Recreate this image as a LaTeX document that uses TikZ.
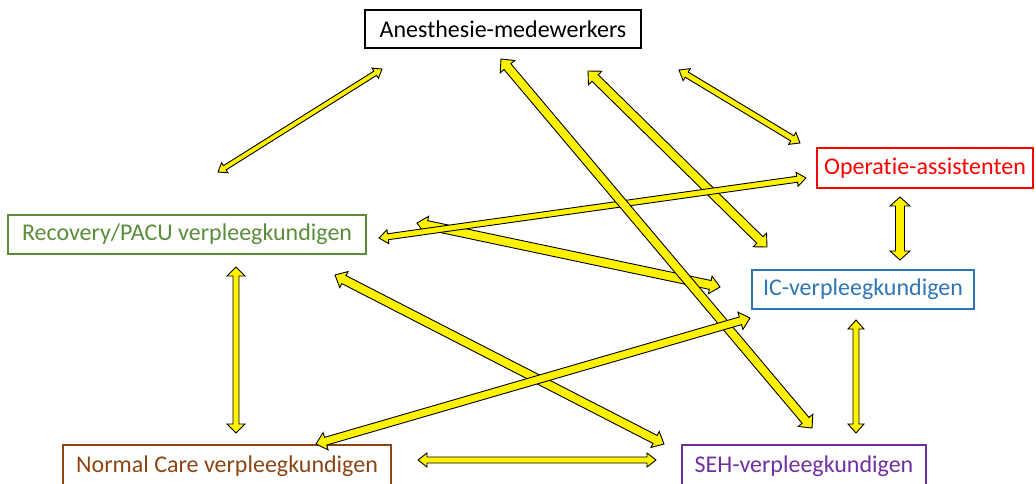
\documentclass[tikz,border=0pt]{standalone}
\usepackage{fontspec}
\setmainfont{Carlito}[Ligatures={NoCommon}]
\usetikzlibrary{calc}

% double headed block arrow: ends, half shaft width, half head width, head length
\newcommand{\biarrow}[5]{%
  \filldraw[yarrow] (#1)
    -- ($(#1)!#5!(#2)!#4!90:(#2)$) -- ($(#1)!#5!(#2)!#3!90:(#2)$)
    -- ($(#2)!#5!(#1)!#3!-90:(#1)$) -- ($(#2)!#5!(#1)!#4!-90:(#1)$)
    -- (#2)
    -- ($(#2)!#5!(#1)!#4!90:(#1)$) -- ($(#2)!#5!(#1)!#3!90:(#1)$)
    -- ($(#1)!#5!(#2)!#3!-90:(#2)$) -- ($(#1)!#5!(#2)!#4!-90:(#2)$)
    -- cycle;}

\definecolor{recgreen}{HTML}{5B8C3A}
\definecolor{icblue}{HTML}{2E75B6}
\definecolor{norbrown}{HTML}{8B4513}
\definecolor{sehpurple}{HTML}{7030A0}
\definecolor{opred}{HTML}{FF0000}

\begin{document}
\begin{tikzpicture}[x=1pt, y=-1pt,
    box/.style={rectangle, draw, line width=1.3pt, inner sep=0pt, font=\fontsize{24}{28}\selectfont},
    yarrow/.style={fill=yellow, draw=black, line width=0.9pt, line join=miter}
]
    \useasboundingbox (0,0) rectangle (1036,483);
    \node [box, minimum width=276, minimum height=38] (ane) at (503,29) {Anesthesie-medewerkers};
    \node [box, draw=opred, text=opred, minimum width=216, minimum height=40] (ope) at (925,168) {Operatie-assistenten};
    \node [box, draw=recgreen, text=recgreen, minimum width=358, minimum height=39] (rec) at (187,234.5) {Recovery/PACU verpleegkundigen};
    \node [box, draw=icblue, text=icblue, minimum width=222, minimum height=39] (ic) at (863,289.5) {IC-verpleegkundigen};
    \node [box, draw=norbrown, text=norbrown, minimum width=328, minimum height=42] (nor) at (227,466) {Normal Care verpleegkundigen};
    \node [box, draw=sehpurple, text=sehpurple, minimum width=244, minimum height=42] (seh) at (804,466) {SEH-verpleegkundigen};

    % arrow ends
    \coordinate (ane-rec) at (382,69);   \coordinate (rec-ane) at (218,172);
    \coordinate (ane-seh) at (501,59);   \coordinate (seh-ane) at (812,428);
    \coordinate (ane-ic) at (588,71);    \coordinate (ic-ane) at (767,247);
    \coordinate (ane-ope) at (679,70);   \coordinate (ope-ane) at (800,143);
    \coordinate (rec-ope) at (379,238);  \coordinate (ope-rec) at (806,178);
    \coordinate (rec-ic) at (417,223);   \coordinate (ic-rec) at (720,287);
    \coordinate (ope-ic) at (900,197);   \coordinate (ic-ope) at (900,260);
    \coordinate (rec-nor) at (236,267);  \coordinate (nor-rec) at (236,433);
    \coordinate (rec-seh) at (335,275);  \coordinate (seh-rec) at (664,444);
    \coordinate (nor-ic) at (316,444);   \coordinate (ic-nor) at (750,318);
    \coordinate (nor-seh) at (418,460);  \coordinate (seh-nor) at (656,460);
    \coordinate (ic-seh) at (856,320);   \coordinate (seh-ic) at (856,433);

    \biarrow{ane-rec}{rec-ane}{2.5pt}{6pt}{8pt}
    \biarrow{ane-ope}{ope-ane}{3pt}{7pt}{9pt}
    \biarrow{rec-ic}{ic-rec}{4.5pt}{9pt}{10pt}
    \biarrow{ane-ic}{ic-ane}{4.5pt}{9.5pt}{10pt}
    \biarrow{rec-ope}{ope-rec}{3pt}{7pt}{9pt}
    \biarrow{ane-seh}{seh-ane}{4.5pt}{9.5pt}{10pt}
    \biarrow{rec-seh}{seh-rec}{4.5pt}{9pt}{10pt}
    \biarrow{nor-ic}{ic-nor}{4pt}{9pt}{10pt}
    \biarrow{ope-ic}{ic-ope}{4.5pt}{10pt}{9pt}
    \biarrow{rec-nor}{nor-rec}{3pt}{9pt}{9pt}
    \biarrow{nor-seh}{seh-nor}{3pt}{7pt}{9pt}
    \biarrow{ic-seh}{seh-ic}{3pt}{8pt}{9pt}
\end{tikzpicture}
\end{document}
